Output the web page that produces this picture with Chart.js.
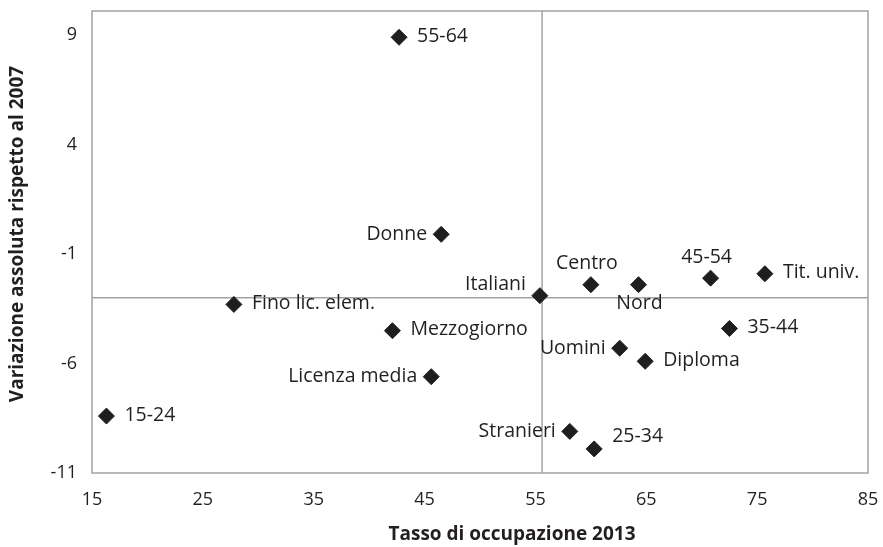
<!DOCTYPE html>
<html><head><meta charset="utf-8">
<script src="https://cdn.jsdelivr.net/npm/chart.js@4.4.0/dist/chart.umd.min.js"></script>
<style>html,body{margin:0;padding:0;background:#fff}#wrap{width:883px;height:547px;position:relative}</style>
</head><body><div id="wrap"><canvas id="c" width="883" height="547"></canvas></div>
<script>
const categories = ["55-64","Donne","Italiani","Centro","Nord","45-54","Tit. univ.","35-44","Uomini","Diploma","25-34","Stranieri","Fino lic. elem.","Mezzogiorno","Licenza media","15-24"];
const occupazione2013 = [42.7,46.5,55.4,60.0,64.3,70.8,75.7,72.5,62.6,64.9,60.3,58.1,27.8,42.1,45.6,16.3];
const variazione2007 = [8.9,-0.1,-2.9,-2.4,-2.4,-2.1,-1.9,-4.4,-5.3,-5.9,-9.9,-9.1,-3.3,-4.5,-6.6,-8.4];
const xTicks = [15,25,35,45,55,65,75,85];
const yTicks = [-11,-6,-1,4,9];
const mediaItalia = {x:55.6, y:-3.0};
const xTitle = "Tasso di occupazione 2013";
const yTitle = "Variazione assoluta rispetto al 2007";
const labelSide = ["right","left","aboveLeft","above","below","above","right","right","left","right","aboveRight","left","right","right","left","right"];

const FONT = "'Open Sans', sans-serif";
const TXT = "#231f20";
const sideStyle = {
  right:{dx:18,dy:-1,align:'left'},
  left:{dx:-14,dy:0,align:'right'},
  aboveLeft:{dx:-14,dy:-11,align:'right'},
  above:{dx:-4,dy:-21,align:'center'},
  below:{dx:1,dy:19,align:'center'},
  aboveRight:{dx:18,dy:-12,align:'left'}
};

const frameAndCross = {
  id:'frameAndCross',
  beforeDatasetsDraw(chart){
    const {ctx, chartArea:a, scales:{x,y}} = chart;
    ctx.save();
    ctx.strokeStyle = '#a3a3a3';
    ctx.lineWidth = 1.5;
    const cx = x.getPixelForValue(mediaItalia.x), cy = y.getPixelForValue(mediaItalia.y);
    ctx.beginPath();
    ctx.moveTo(cx, a.top); ctx.lineTo(cx, a.bottom);
    ctx.moveTo(a.left, cy); ctx.lineTo(a.right, cy);
    ctx.stroke();
    ctx.strokeRect(a.left, a.top, a.right-a.left, a.bottom-a.top);
    ctx.restore();
  },
  afterDatasetsDraw(chart){
    const {ctx} = chart;
    const meta = chart.getDatasetMeta(0);
    ctx.save();
    ctx.fillStyle = TXT;
    ctx.font = "19.5px " + FONT;
    ctx.textBaseline = 'middle';
    meta.data.forEach((pt,i)=>{
      const s = sideStyle[labelSide[i]];
      ctx.textAlign = s.align;
      ctx.fillText(categories[i], pt.x + s.dx, pt.y + s.dy);
    });
    ctx.font = "bold 19px " + FONT;
    ctx.textAlign = 'center';
    ctx.fillText(xTitle, 512, 535);
    ctx.translate(18, 234);
    ctx.rotate(-Math.PI/2);
    ctx.fillText(yTitle, 0, 0);
    ctx.restore();
  }
};

new Chart(document.getElementById('c'), {
  type:'scatter',
  data:{
    labels: categories,
    datasets:[{
      data: occupazione2013.map((v,i)=>({x:v, y:variazione2007[i]})),
      pointStyle:'rectRot',
      pointRadius:8,
      pointHoverRadius:8,
      backgroundColor:'#1e1e1e',
      borderColor:'#1e1e1e',
      borderWidth:1
    }]
  },
  options:{
    responsive:false,
    animation:false,
    devicePixelRatio:1,
    layout:{padding:{left:0,right:15,top:11,bottom:0}},
    plugins:{legend:{display:false},tooltip:{enabled:false}},
    scales:{
      x:{
        type:'linear', min:15, max:85,
        afterBuildTicks(s){ s.ticks = xTicks.map(v=>({value:v})); },
        afterFit(s){ s.height = 74; s.paddingLeft = 0; s.paddingRight = 0; },
        grid:{display:false, drawTicks:false},
        border:{display:false},
        ticks:{font:{family:FONT,size:18}, color:TXT, padding:16, maxRotation:0}
      },
      y:{
        type:'linear', min:-11, max:10.1,
        afterBuildTicks(s){ s.ticks = yTicks.map(v=>({value:v})); },
        afterFit(s){ s.width = 92; s.paddingTop = 0; s.paddingBottom = 0; },
        grid:{display:false, drawTicks:false},
        border:{display:false},
        ticks:{font:{family:FONT,size:18}, color:TXT, padding:15}
      }
    }
  },
  plugins:[frameAndCross]
});
</script></body></html>
